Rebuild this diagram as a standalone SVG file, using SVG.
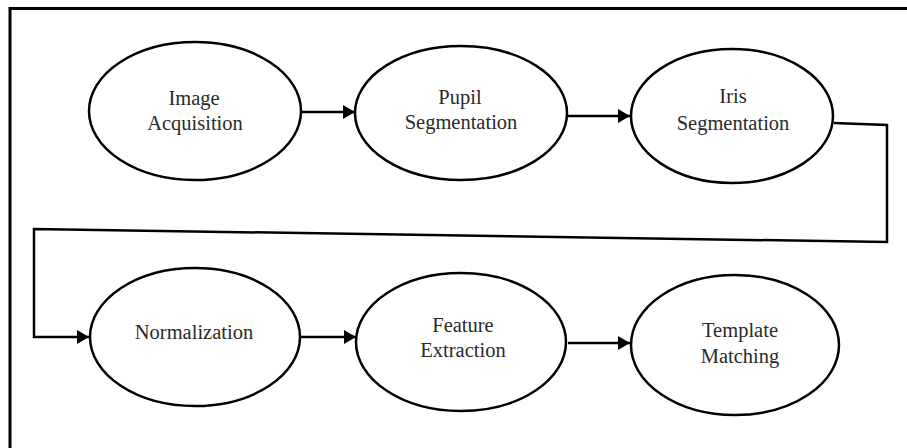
<svg xmlns="http://www.w3.org/2000/svg" width="907" height="448" viewBox="0 0 907 448">
<style>
  .node ellipse { fill: #ffffff; stroke: #000; stroke-width: 2.5; }
  .node text { font-family: 'Liberation Serif', 'Times New Roman', Tinos, 'DejaVu Serif', 'Noto Serif', serif; font-size: 20.5px; fill: #2a2a2a; text-anchor: middle; }
  .conn { fill: none; stroke: #000; stroke-width: 2.5; }
  .frame { fill: none; stroke: #000; stroke-width: 3; }
</style>
<defs>
  <marker id="arrow" viewBox="0 0 12 14" refX="12" refY="7" markerWidth="12" markerHeight="14" markerUnits="userSpaceOnUse" orient="auto">
    <path d="M0,0 L12,7 L0,14 Z" fill="#000"/>
  </marker>
</defs>
<rect width="907" height="448" fill="#ffffff"/>
<path class="frame" d="M10,448 L10,8.5 L907,8.5"/>

<g id="connectors">
  <line class="conn" x1="301" y1="112" x2="355" y2="112" marker-end="url(#arrow)"/>
  <line class="conn" x1="567" y1="116" x2="630" y2="116" marker-end="url(#arrow)"/>
  <polyline class="conn" points="834,123 887,125 887,242 34,229 34,337 89,337" marker-end="url(#arrow)"/>
  <line class="conn" x1="301" y1="337" x2="356" y2="337" marker-end="url(#arrow)"/>
  <line class="conn" x1="568" y1="343" x2="630" y2="343" marker-end="url(#arrow)"/>
</g>

<g id="image-acquisition" class="node">
  <ellipse cx="195" cy="111" rx="106" ry="69"/>
  <text x="194" y="105" font-family="Liberation Serif, serif">Image</text>
  <text x="195" y="130" font-family="Liberation Serif, serif">Acquisition</text>
</g>
<g id="pupil-segmentation" class="node">
  <ellipse cx="461" cy="113" rx="106" ry="67"/>
  <text x="460" y="104">Pupil</text>
  <text x="461" y="129">Segmentation</text>
</g>
<g id="iris-segmentation" class="node">
  <ellipse cx="732" cy="116" rx="101" ry="67"/>
  <text x="733" y="103">Iris</text>
  <text x="733" y="130">Segmentation</text>
</g>
<g id="normalization" class="node">
  <ellipse cx="195" cy="337" rx="105" ry="69"/>
  <text x="194" y="339">Normalization</text>
</g>
<g id="feature-extraction" class="node">
  <ellipse cx="461" cy="342" rx="105" ry="69"/>
  <text x="463" y="332">Feature</text>
  <text x="463" y="357">Extraction</text>
</g>
<g id="template-matching" class="node">
  <ellipse cx="735" cy="345" rx="104" ry="70"/>
  <text x="740" y="337">Template</text>
  <text x="740" y="363">Matching</text>
</g>
</svg>
